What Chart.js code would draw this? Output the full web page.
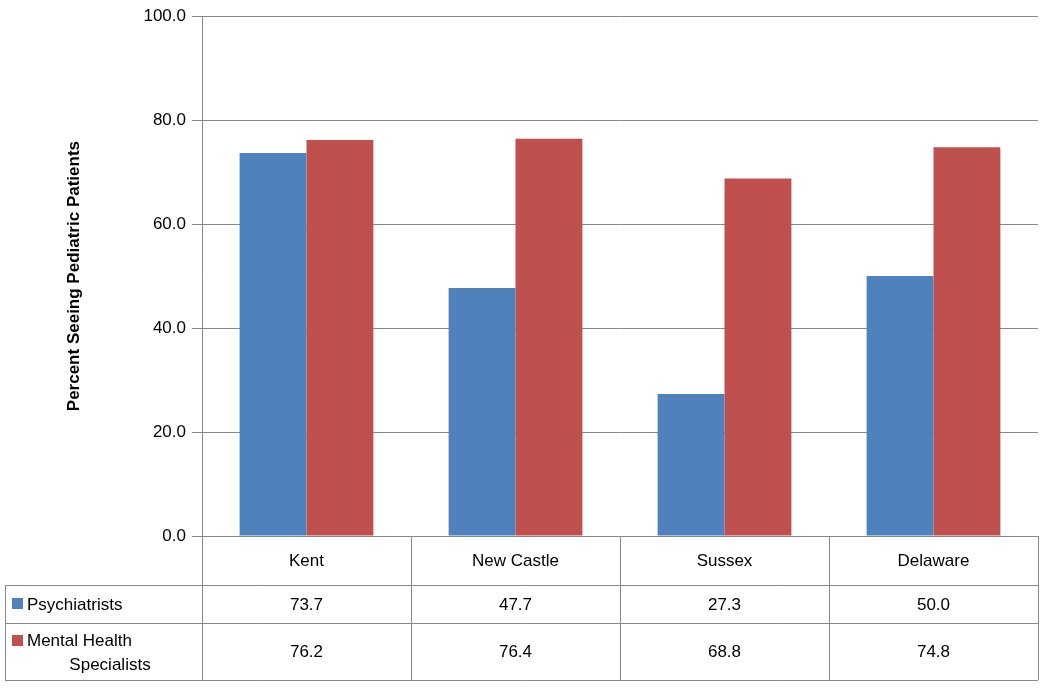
<!DOCTYPE html>
<html><head><meta charset="utf-8">
<script src="https://cdn.jsdelivr.net/npm/chart.js@4/dist/chart.umd.min.js"></script>
<style>html,body{margin:0;padding:0;background:#fff}#w{width:1042px;height:700px}</style>
</head><body><div id="w"><canvas id="c"></canvas></div>
<script>
const categories = ["Kent","New Castle","Sussex","Delaware"];
const psychiatrists = [73.7,47.7,27.3,50.0];
const mentalHealth = [76.2,76.4,68.8,74.8];
const seriesNames = ["Psychiatrists",["Mental Health","Specialists"]];
const BLUE="#4F81BD", RED="#C0504D", LINE="#878787";
const FONT="'Liberation Sans', Arial, sans-serif";

const tablePlugin = {
  id:'tbl',
  afterDraw(chart){
    const ctx=chart.ctx, a=chart.chartArea, x=chart.scales.x;
    const y0=a.bottom, y1=y0+49, y2=y1+38, y3=y2+57, L=5;
    const step=(a.right-a.left)/categories.length;
    ctx.save();
    ctx.strokeStyle=LINE; ctx.lineWidth=1;
    ctx.beginPath();
    ctx.moveTo(L,y1+.5);ctx.lineTo(a.right,y1+.5);
    ctx.moveTo(L,y2+.5);ctx.lineTo(a.right,y2+.5);
    ctx.moveTo(L,y3+.5);ctx.lineTo(a.right,y3+.5);
    ctx.moveTo(L+.5,y1);ctx.lineTo(L+.5,y3);
    for(let i=0;i<=categories.length;i++){const xx=Math.round(a.left+i*step)+.5;ctx.moveTo(xx,y0);ctx.lineTo(xx,y3);}
    ctx.stroke();
    ctx.fillStyle="#000"; ctx.font="17px "+FONT; ctx.textAlign="center"; ctx.textBaseline="middle";
    categories.forEach((c,i)=>{
      const cx=x.getPixelForValue(i);
      ctx.fillText(c,cx,(y0+y1)/2+1);
      ctx.fillText(psychiatrists[i].toFixed(1),cx,(y1+y2)/2+1);
      ctx.fillText(mentalHealth[i].toFixed(1),cx,(y2+y3)/2+1);
    });
    ctx.fillStyle=BLUE; ctx.fillRect(12,(y1+y2)/2-6,11,11);
    ctx.fillStyle=RED; ctx.fillRect(12,y2+12,11,11);
    ctx.fillStyle="#000"; ctx.textAlign="left";
    ctx.fillText(seriesNames[0],27,(y1+y2)/2+1);
    ctx.fillText(seriesNames[1][0],27,y2+18);
    ctx.textAlign="center";
    ctx.fillText(seriesNames[1][1],110,y2+42);
    ctx.restore();
  }
};

new Chart(document.getElementById('c'),{
  type:'bar',
  data:{labels:categories,datasets:[
    {label:"Psychiatrists",data:psychiatrists,backgroundColor:BLUE},
    {label:"Mental Health Specialists",data:mentalHealth,backgroundColor:RED}
  ]},
  options:{
    responsive:true,maintainAspectRatio:false,animation:false,
    layout:{padding:{left:0,right:4,top:10,bottom:164}},
    plugins:{legend:{display:false},tooltip:{enabled:false}},
    datasets:{bar:{categoryPercentage:0.64,barPercentage:1}},
    scales:{
      x:{display:false},
      y:{min:0,max:100,
        ticks:{stepSize:20,callback:v=>v.toFixed(1),color:"#000",font:{size:17,family:FONT},padding:6},
        grid:{color:LINE,tickLength:10,drawTicks:true},
        border:{color:LINE},
        title:{display:true,text:"Percent Seeing Pediatric Patients",color:"#000",font:{size:17,weight:'bold',family:FONT},padding:{top:64,bottom:0}},
        afterFit(s){s.width=202;}
      }
    }
  },
  plugins:[tablePlugin]
});
</script></body></html>
